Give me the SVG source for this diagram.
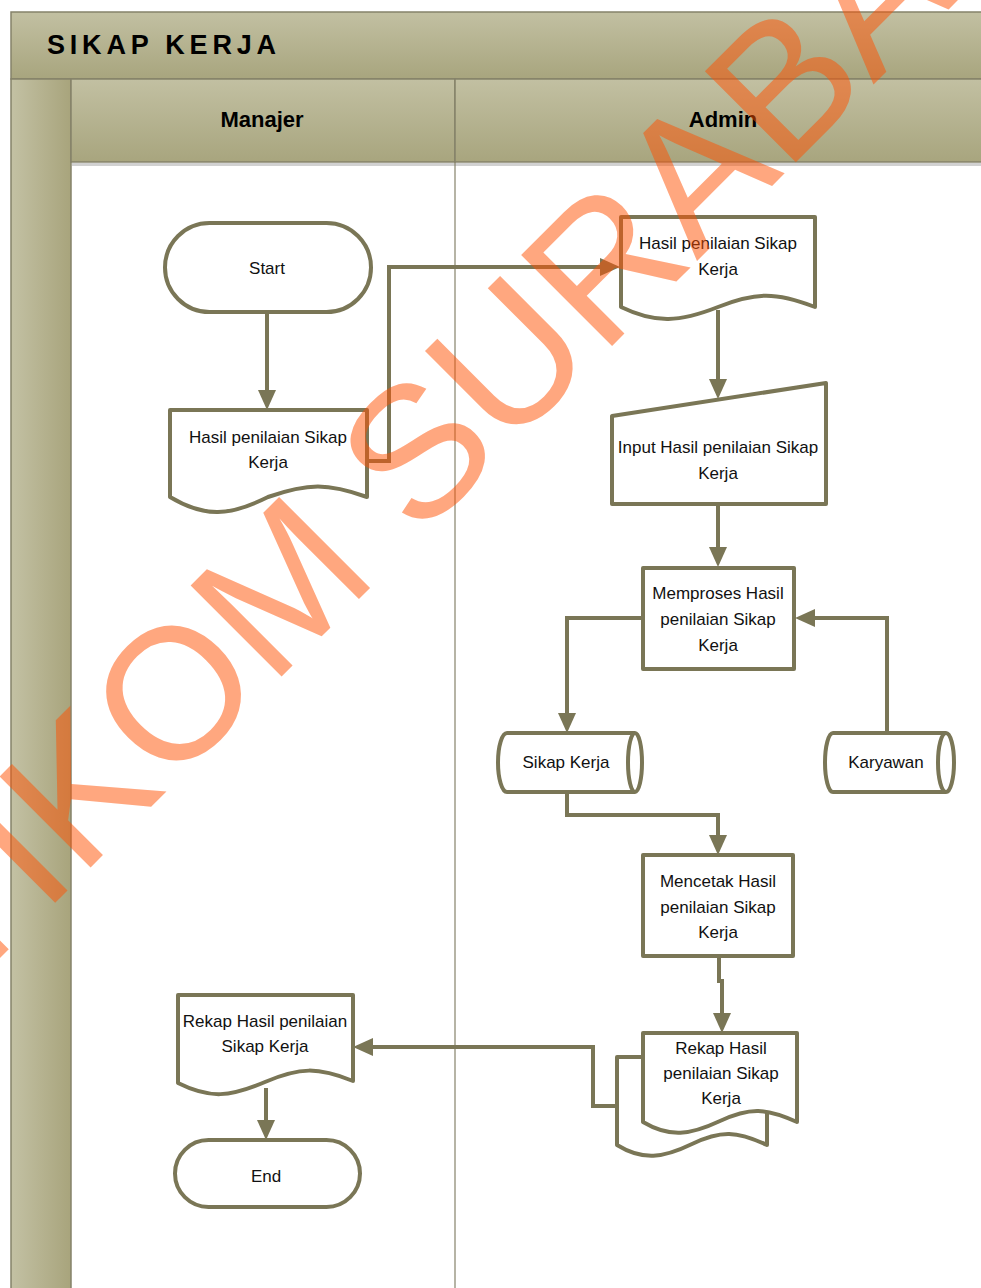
<svg xmlns="http://www.w3.org/2000/svg" width="981" height="1288" viewBox="0 0 981 1288">
<defs>
<linearGradient id="gV" x1="0" y1="0" x2="0" y2="1"><stop offset="0" stop-color="#C2C0A2"/><stop offset="1" stop-color="#A8A57E"/></linearGradient>
<linearGradient id="gH" x1="0" y1="0" x2="1" y2="0"><stop offset="0" stop-color="#C3C1A4"/><stop offset="1" stop-color="#A8A47C"/></linearGradient>
<marker id="ah" viewBox="0 0 20 20" markerWidth="20" markerHeight="20" markerUnits="userSpaceOnUse" refX="10" refY="10" orient="auto"><path d="M0,1 L20,10 L0,19 Z" fill="#7A7656"/></marker>
<style>
.sh{fill:#fff;stroke:#7A7656;stroke-width:4;stroke-linejoin:round}
.ln{fill:none;stroke:#7A7656;stroke-width:4;marker-end:url(#ah)}
.t{font-family:"Liberation Sans",Arial,sans-serif;font-size:17px;fill:#111;text-anchor:middle}
.hd{font-family:"Liberation Sans",Arial,sans-serif;font-size:22px;font-weight:bold;fill:#000;text-anchor:middle}
.pb{stroke:#85826A;stroke-width:1.5}
</style>
</defs>
<rect x="0" y="0" width="981" height="1288" fill="#fff"/>
<g id="pool">
<rect class="pb" x="11" y="12" width="975" height="67" fill="url(#gV)"/>
<rect class="pb" x="11" y="79" width="60" height="1215" fill="url(#gH)"/>
<rect class="pb" x="71" y="79" width="384" height="83" fill="url(#gV)"/>
<rect class="pb" x="455" y="79" width="531" height="83" fill="url(#gV)"/>
<rect x="72" y="163" width="914" height="3" fill="#BEBEBE" opacity="0.7"/>
<line x1="455" y1="162" x2="455" y2="1288" stroke="#85826A" stroke-width="1.2"/>
<text x="47" y="54" font-family="Liberation Sans, Arial, sans-serif" font-weight="bold" font-size="27" textLength="229" lengthAdjust="spacing">SIKAP KERJA</text>
<text class="hd" x="262" y="127">Manajer</text>
<text class="hd" x="723" y="127">Admin</text>
</g>
<g id="connectors">
<path class="ln" d="M267,312 V400"/>
<path class="ln" d="M367,461 H389 V267 H610"/>
<path class="ln" d="M718,310 V389"/>
<path class="ln" d="M718,504 V557"/>
<path class="ln" d="M643,618 H567 V723"/>
<path class="ln" d="M887,733 V618 H805"/>
<path class="ln" d="M567,792 V815 H718 V845"/>
<path class="ln" d="M719,956 V981 H722 V1023"/>
<path class="ln" d="M617,1106 H593 V1047 H363"/>
<path class="ln" d="M266,1088 V1130"/>
</g>
<g id="start">
<rect class="sh" x="165" y="223" width="206" height="89" rx="44.5"/>
<text class="t" x="267" y="274">Start</text>
</g>
<g id="doc-manajer">
<path class="sh" d="M170,410 H367 V497 C328,483 308,483 268,497 C230,516 205,518 170,497 Z"/>
<text class="t" x="268" y="443">Hasil penilaian Sikap</text>
<text class="t" x="268" y="468">Kerja</text>
</g>
<g id="doc-admin">
<path class="sh" d="M621,217 H815 V307 C776,292 756,292 718,307 C680,322 656,324 621,307 Z"/>
<text class="t" x="718" y="249">Hasil penilaian Sikap</text>
<text class="t" x="718" y="275">Kerja</text>
</g>
<g id="input">
<path class="sh" d="M612,416 L826,383 L826,504 L612,504 Z"/>
<text class="t" x="718" y="453">Input Hasil penilaian Sikap</text>
<text class="t" x="718" y="479">Kerja</text>
</g>
<g id="memproses">
<rect class="sh" x="643" y="568" width="151" height="101"/>
<text class="t" x="718" y="599">Memproses Hasil</text>
<text class="t" x="718" y="625">penilaian Sikap</text>
<text class="t" x="718" y="651">Kerja</text>
</g>
<g id="db-sikap">
<path class="sh" d="M507,733 H635 A7,29.5 0 0 1 635,792 H507 A9,29.5 0 0 1 507,733 Z"/>
<path class="sh" fill="none" d="M635,733 A7,29.5 0 0 0 635,792"/>
<text class="t" x="566" y="768">Sikap Kerja</text>
</g>
<g id="db-karyawan">
<path class="sh" d="M833,733 H946 A8,29.5 0 0 1 946,792 H833 A8,29.5 0 0 1 833,733 Z"/>
<path class="sh" fill="none" d="M946,733 A8,29.5 0 0 0 946,792"/>
<text class="t" x="886" y="768">Karyawan</text>
</g>
<g id="mencetak">
<rect class="sh" x="643" y="855" width="150" height="101"/>
<text class="t" x="718" y="887">Mencetak Hasil</text>
<text class="t" x="718" y="913">penilaian Sikap</text>
<text class="t" x="718" y="938">Kerja</text>
</g>
<g id="rekap-admin">
<path class="sh" d="M617,1057 H767 V1145 C737,1131 721,1130 692,1144 C663,1158 643,1161 617,1145 Z"/>
<path class="sh" d="M643,1033 H797 V1122 C766,1108 750,1107 720,1121 C690,1135 670,1138 643,1122 Z"/>
<text class="t" x="721" y="1054">Rekap Hasil</text>
<text class="t" x="721" y="1079">penilaian Sikap</text>
<text class="t" x="721" y="1104">Kerja</text>
</g>
<g id="rekap-manajer">
<path class="sh" d="M178,995 H353 V1081 C318,1067 300,1067 265,1082 C230,1097 210,1099 178,1083 Z"/>
<text class="t" x="265" y="1027">Rekap Hasil penilaian</text>
<text class="t" x="265" y="1052">Sikap Kerja</text>
</g>
<g id="end">
<rect class="sh" x="175" y="1140" width="185" height="67" rx="33.5"/>
<text class="t" x="266" y="1182">End</text>
</g>
<g id="watermark">
<text transform="translate(-126,1084) rotate(-45)" font-family="Liberation Sans, Arial, sans-serif" font-size="187" fill="#FF5000" fill-opacity="0.5">STIKOM SURABAYA</text>
</g>
</svg>
